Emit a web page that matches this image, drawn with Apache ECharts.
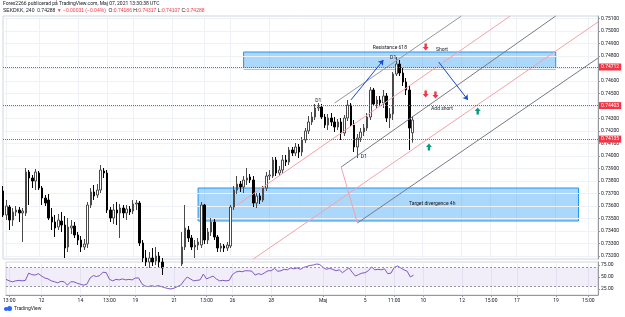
<!DOCTYPE html>
<html><head><meta charset="utf-8">
<script src="https://cdn.jsdelivr.net/npm/echarts@6/dist/echarts.min.js"></script>
<style>html,body{margin:0;padding:0;background:#fff}#c{width:625px;height:317px}</style>
</head><body><div id="c"></div>
<script>
// ---- candle data (SEKDKK, 240) ----
const opens = [
0.73720,0.73528,0.73592,0.73488,0.73552,0.73568,0.73544,0.73544,0.73872,0.73824,
0.73800,0.73864,0.73744,0.73664,0.73648,0.73512,0.73472,0.73432,0.73480,0.73448,
0.73272,0.73424,0.73440,0.73368,0.73328,0.73272,0.73296,0.73608,0.73712,0.73688,
0.73728,0.73880,0.73864,0.73568,0.73504,0.73568,0.73544,0.73584,0.73544,0.73576,
0.73560,0.73616,0.73624,0.73304,0.73184,0.73152,0.73184,0.73160,0.73200,0.73152,
0.73104,0.73048,0.73008,0.73040,0.73088,0.73136,0.73272,0.73408,0.73344,0.73272,
0.73288,0.73288,0.73608,0.73328,0.73392,0.73472,0.73352,0.73264,0.73280,0.73264,
0.73280,0.73592,0.73728,0.73776,0.73752,0.73808,0.73832,0.73808,0.73624,0.73680,
0.73648,0.73744,0.73840,0.73840,0.73968,0.73864,0.73888,0.73968,0.73952,0.74048,
0.74024,0.74072,0.74032,0.74128,0.74200,0.74272,0.74312,0.74384,0.74392,0.74312,
0.74248,0.74304,0.74272,0.74232,0.74272,0.74184,0.74304,0.74408,0.74248,0.74072,
0.74144,0.74192,0.74224,0.74312,0.74528,0.74416,0.74448,0.74424,0.74480,0.74304,
0.74336,0.74656,0.74736,0.74664,0.74592,0.74528,0.74186];
const closes = [
0.73528,0.73600,0.73488,0.73552,0.73568,0.73544,0.73560,0.73872,0.73824,0.73800,
0.73872,0.73744,0.73664,0.73624,0.73504,0.73472,0.73424,0.73488,0.73448,0.73264,
0.73432,0.73440,0.73368,0.73328,0.73272,0.73296,0.73608,0.73712,0.73680,0.73728,
0.73888,0.73864,0.73568,0.73504,0.73568,0.73544,0.73584,0.73544,0.73576,0.73552,
0.73616,0.73624,0.73304,0.73184,0.73152,0.73184,0.73152,0.73200,0.73152,0.73104,
0.73048,0.73008,0.73040,0.73088,0.73136,0.73272,0.73424,0.73344,0.73272,0.73288,
0.73312,0.73608,0.73328,0.73392,0.73472,0.73352,0.73264,0.73280,0.73264,0.73288,
0.73592,0.73728,0.73776,0.73752,0.73808,0.73824,0.73808,0.73624,0.73680,0.73648,
0.73744,0.73840,0.73848,0.73968,0.73864,0.73888,0.73968,0.73952,0.74048,0.74024,
0.74072,0.74032,0.74128,0.74200,0.74272,0.74312,0.74384,0.74392,0.74312,0.74248,
0.74304,0.74272,0.74232,0.74272,0.74184,0.74304,0.74408,0.74248,0.74072,0.74144,
0.74192,0.74224,0.74312,0.74528,0.74416,0.74448,0.74424,0.74480,0.74304,0.74336,
0.74656,0.74736,0.74664,0.74592,0.74528,0.74224,0.74288];
const lows = [
0.73512,0.73488,0.73408,0.73440,0.73520,0.73472,0.73312,0.73520,0.73608,0.73744,
0.73728,0.73728,0.73608,0.73600,0.73488,0.73408,0.73352,0.73408,0.73392,0.73184,
0.73232,0.73376,0.73344,0.73288,0.73232,0.73248,0.73264,0.73584,0.73648,0.73664,
0.73704,0.73824,0.73544,0.73472,0.73456,0.73448,0.73344,0.73504,0.73488,0.73528,
0.73536,0.73568,0.73280,0.73152,0.73120,0.73104,0.73120,0.73128,0.73104,0.73048,
0.72992,0.72944,0.72960,0.73008,0.73056,0.73120,0.73248,0.73312,0.73248,0.73184,
0.73248,0.73264,0.73296,0.73296,0.73360,0.73328,0.73232,0.73232,0.73232,0.73240,
0.73264,0.73568,0.73696,0.73712,0.73704,0.73768,0.73784,0.73592,0.73584,0.73616,
0.73632,0.73720,0.73808,0.73824,0.73840,0.73840,0.73864,0.73920,0.73928,0.74000,
0.74000,0.73984,0.74000,0.74104,0.74176,0.74248,0.74288,0.74360,0.74296,0.74224,
0.74208,0.74240,0.74192,0.74208,0.74128,0.74160,0.74280,0.74232,0.74032,0.73984,
0.74112,0.74160,0.74200,0.74288,0.74400,0.74384,0.74400,0.74384,0.74272,0.74224,
0.74288,0.74640,0.74640,0.74560,0.74488,0.74048,0.74107];
const highs = [
0.73760,0.73648,0.73608,0.73584,0.73600,0.73592,0.73584,0.73904,0.73888,0.73848,
0.73896,0.73880,0.73760,0.73688,0.73696,0.73584,0.73528,0.73536,0.73552,0.73520,
0.73504,0.73488,0.73472,0.73392,0.73360,0.73336,0.73632,0.73744,0.73768,0.73776,
0.73928,0.73904,0.73888,0.73592,0.73616,0.73632,0.73616,0.73608,0.73608,0.73600,
0.73648,0.73648,0.73640,0.73328,0.73248,0.73232,0.73264,0.73272,0.73232,0.73184,
0.73152,0.73088,0.73072,0.73120,0.73152,0.73392,0.73608,0.73440,0.73368,0.73328,
0.73344,0.73632,0.73616,0.73424,0.73504,0.73496,0.73368,0.73304,0.73296,0.73312,
0.73608,0.73760,0.73840,0.73800,0.73840,0.73904,0.73856,0.73840,0.73704,0.73704,
0.73760,0.73872,0.73888,0.73992,0.73992,0.73920,0.74008,0.74008,0.74072,0.74072,
0.74104,0.74096,0.74152,0.74224,0.74320,0.74352,0.74416,0.74424,0.74416,0.74336,
0.74336,0.74344,0.74312,0.74296,0.74304,0.74328,0.74448,0.74424,0.74288,0.74176,
0.74224,0.74256,0.74344,0.74552,0.74544,0.74480,0.74480,0.74528,0.74504,0.74384,
0.74672,0.74792,0.74768,0.74704,0.74624,0.74560,0.74317];
// RSI (14)
const rsi = [
45,42,40,42,43,42,43, 58,55,54,57,52, 48,46,42,40,38,41,40,33, 40,40,37,35,33,35,
48,53,51,53,60,59, 45,42,45,44,46,44,45,44,48,48,
36,31,30,32,30,32,30,28,26,25,27,30,33,42, 50,46,42,43,44,
56,46,49,52,46,42,43,42,43, 55,60,62,61,63,63,62, 54,57,55,59,63,63,
68,62,63,66,65,69,67,69,66,70,72,74,75,77,76,
70,66,68,66,63,65,59,64,69,60,52,55,58,59,63,
71,65,66,65,67,57,58, 70,73,69,65,62,50,54];
// axes
const slotCount = 184;
const tickIdx  = [1,11,23,32,40,52,62,70,82,98,111,120,129,141,150,158,170,180];
const tickText = ['13:00','12','14','13:00','19','21','13:00','26','28','Maj','5','11:00','10','12','15:00','17','19','15:00'];
const priceTicks = [0.732,0.733,0.734,0.735,0.736,0.737,0.738,0.739,0.740,0.741,0.742,0.743,0.744,0.745,0.746,0.747,0.748,0.749,0.750,0.751];
const priceRange = [0.73176, 0.75120];
const rsiTicks = [25,50,75];
const rsiRange = [12.5, 81.25];
// drawings
const levels = [0.74712, 0.74403, 0.74135];
const lastPrice = 0.74288;
const zones = [[74,0.74832,170,0.74696],[60,0.73744,177,0.73480]];
const channelLines = [
  [102,0.74424,141,0.75120,'#9598a1'],
  [72,0.73608,156,0.75120,'#f7a1a8'],
  [104,0.73912,170,0.75120,'#787b86'],
  [77,0.73176,183,0.75072,'#f7a1a8'],
  [109,0.73464,183,0.74784,'#787b86'],
  [104,0.73912,109,0.73464,'#f7a1a8']
];
const blueArrows = [[107,0.74448,117,0.74768],[134,0.74752,143,0.74448]];
const notes = [
  [119,0.74864,'Resistance 618'],[135,0.74848,'Short'],[135,0.74376,'Add short'],
  [132,0.73616,'Target divergence 4h'],[97,0.74440,'D1'],[120,0.74784,'D1'],[111,0.73992,'D1']
];
const downArrows = [[130,0.74872],[130,0.74496],[133,0.74488]];
const upArrows = [[131,0.74072],[146,0.74360]];

const F = 'Roboto, "Liberation Sans", sans-serif';
const slots = Array.from({length: slotCount}, (_, i) => 's' + i);
const tickMap = {}; tickIdx.forEach((k, j) => tickMap[k] = tickText[j]);
const isTick = (i) => tickMap[i] !== undefined;
const candles = opens.map((o, i) => [o, closes[i], lows[i], highs[i]]);
const GRIDC = '#eef1f6';
const RED = '#f23645';
const DOWN = 'path://M3,0L7,0L7,5L10,5L5,10L0,5L3,5Z';
const UP = 'path://M5,0L10,5L7,5L7,10L3,10L3,5L0,5Z';

const chart = echarts.init(document.getElementById('c'));
chart.setOption({
  animation: false,
  backgroundColor: '#ffffff',
  textStyle: {fontFamily: F},
  grid: [
    {left: 3, right: 27, top: 16, height: 243, show: true, borderColor: '#d1d4dc', borderWidth: 1},
    {left: 3, right: 27, top: 262, height: 33, show: true, borderColor: '#d1d4dc', borderWidth: 1}
  ],
  xAxis: [
    {type: 'category', gridIndex: 0, data: slots, boundaryGap: false,
     axisLine: {show: false}, axisTick: {show: false}, axisLabel: {show: false},
     splitLine: {show: true, interval: (i) => isTick(i), lineStyle: {color: GRIDC}}},
    {type: 'category', gridIndex: 1, data: slots, boundaryGap: false,
     axisLine: {show: true, lineStyle: {color: '#9598a1'}},
     axisTick: {show: true, interval: (i) => isTick(i), length: 2, lineStyle: {color: '#9598a1'}},
     axisLabel: {show: true, interval: (i) => isTick(i), formatter: (v, i) => tickMap[i] || '', fontSize: 5, color: '#131722', margin: 3},
     splitLine: {show: true, interval: (i) => isTick(i), lineStyle: {color: GRIDC}}}
  ],
  yAxis: [
    {type: 'value', gridIndex: 0, position: 'right', min: priceRange[0], max: priceRange[1],
     axisLine: {show: true, lineStyle: {color: '#9598a1'}},
     axisTick: {show: true, customValues: priceTicks, length: 2, lineStyle: {color: '#9598a1'}},
     axisLabel: {customValues: priceTicks, formatter: (v) => v.toFixed(5), fontSize: 5, color: '#131722', margin: 3},
     splitLine: {show: false}},
    {type: 'value', gridIndex: 1, position: 'right', min: rsiRange[0], max: rsiRange[1],
     axisLine: {show: true, lineStyle: {color: '#9598a1'}},
     axisTick: {show: true, customValues: rsiTicks, length: 2, lineStyle: {color: '#9598a1'}},
     axisLabel: {customValues: rsiTicks, formatter: (v) => v.toFixed(2), fontSize: 5, color: '#131722', margin: 3},
     splitLine: {show: false}}
  ],
  series: [
    {type: 'line', name: 'grid', xAxisIndex: 0, yAxisIndex: 0, data: [], silent: true,
     markLine: {silent: true, symbol: 'none', z: 1, precision: 5, label: {show: false},
       lineStyle: {color: GRIDC, type: 'solid', width: 1},
       data: priceTicks.map(v => ({yAxis: v}))}},
    {type: 'candlestick', name: 'SEKDKK', xAxisIndex: 0, yAxisIndex: 0, data: candles,
     barWidth: 2, clip: true, z: 3,
     itemStyle: {color: '#ffffff', color0: '#000000', borderColor: '#4a4a4a', borderColor0: '#000000', borderWidth: 1},
     markArea: {silent: true,
       itemStyle: {color: 'rgba(33,150,243,0.38)', borderColor: '#2196f3', borderWidth: 1},
       data: zones.map(z => [{coord: [z[0], z[1]]}, {coord: [z[2], z[3]]}])}},
    {type: 'line', name: 'levels', xAxisIndex: 0, yAxisIndex: 0, data: [], silent: true,
     itemStyle: {color: RED}, lineStyle: {color: RED},
     markLine: {silent: true, symbol: 'none', z: 6, precision: 5,
       lineStyle: {color: RED, type: [1, 1], width: 1},
       data: levels.map(v => ({yAxis: v,
         lineStyle: {color: RED, type: [1, 1], width: 1},
         label: {show: true, position: 'end', distance: 1, formatter: v.toFixed(5), backgroundColor: RED,
                 color: '#fff', fontSize: 5, padding: [1, 2]}})).concat([
         {yAxis: lastPrice, lineStyle: {opacity: 0},
          label: {show: true, position: 'end', distance: 1, formatter: lastPrice.toFixed(5) + '\n01:29:27',
                  backgroundColor: '#ffffff', color: '#131722', fontSize: 5, lineHeight: 6, padding: [0, 1]}}])},
     markPoint: {silent: true, z: 7,
       data: notes.map(n => ({coord: [n[0], n[1]], symbol: 'circle', symbolSize: 1,
               itemStyle: {color: 'rgba(0,0,0,0)'},
               label: {show: true, position: 'inside', formatter: n[2], fontSize: 5, color: '#131722'}}))
         .concat(downArrows.map(a => ({coord: a, symbol: DOWN, symbolSize: [6, 7],
               itemStyle: {color: RED}, label: {show: false}})))
         .concat(upArrows.map(a => ({coord: a, symbol: UP, symbolSize: [6, 7],
               itemStyle: {color: '#089981'}, label: {show: false}})))}},
    {type: 'line', name: 'channels', xAxisIndex: 0, yAxisIndex: 0, data: [], silent: true,
     markLine: {silent: true, symbol: 'none', z: 4, precision: 5, label: {show: false},
       data: channelLines.map(l => [{coord: [l[0], l[1]], lineStyle: {color: l[4], width: 1, type: 'solid'}},
                                    {coord: [l[2], l[3]]}])}},
    {type: 'line', name: 'arrows', xAxisIndex: 0, yAxisIndex: 0, data: [], silent: true,
     markLine: {silent: true, symbol: ['none', 'arrow'], symbolSize: 5, z: 6, precision: 5, label: {show: false},
       lineStyle: {color: '#1848cc', width: 1, type: 'solid'},
       data: blueArrows.map(a => [{coord: [a[0], a[1]]}, {coord: [a[2], a[3]]}])}},
    {type: 'line', name: 'RSI', xAxisIndex: 1, yAxisIndex: 1, data: rsi, symbol: 'none',
     lineStyle: {color: '#7e57c2', width: 1}, silent: true,
     markArea: {silent: true, itemStyle: {color: 'rgba(126,87,194,0.1)'}, data: [[{yAxis: 70}, {yAxis: 30}]]},
     markLine: {silent: true, symbol: 'none', label: {show: false},
       lineStyle: {color: '#9598a1', type: [2, 2], width: 1},
       data: [{yAxis: 70}, {yAxis: 30}]}}
  ],
  graphic: [
    {type: 'text', left: 3, top: 1, style: {text: 'Forex2266 publicerad på TradingView.com, Maj 07, 2021 13:30:38 UTC',
      font: '5px Roboto', fill: '#131722'}},
    {type: 'text', left: 3, top: 8, style: {
      text: '{a|SEKDKK, 240  0.74288 }{r|▼ −0.00031 (−0.04%)}{a|  O:}{r|0.74186}{a| H:}{r|0.74317}{a| L:}{r|0.74107}{a| C:}{r|0.74288}',
      font: '5px Roboto',
      rich: {a: {fill: '#131722', color: '#131722', fontSize: 5}, r: {fill: RED, color: RED, fontSize: 5}}}},
    {type: 'circle', left: 4, top: 307, shape: {r: 2}, style: {fill: '#2962ff'}},
    {type: 'circle', left: 7, top: 306, shape: {r: 2.5}, style: {fill: '#2962ff'}},
    {type: 'text', left: 14, top: 306, style: {text: 'TradingView', font: '5px Roboto', fill: '#131722'}}
  ]
});
</script></body></html>
